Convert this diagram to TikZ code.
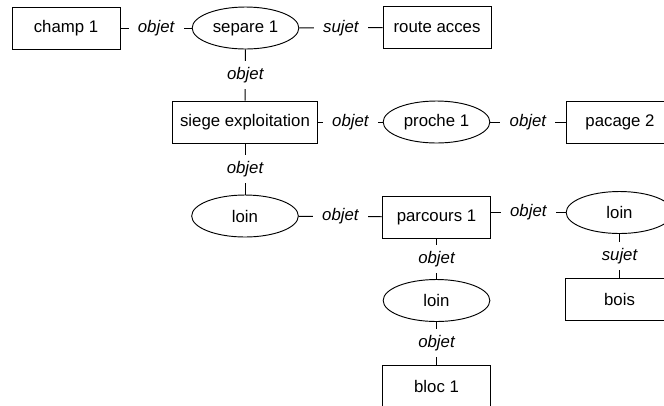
\documentclass[tikz,border=0pt]{standalone}
\usepackage{fontspec}
\setmainfont{Liberation Sans}
\usetikzlibrary{positioning,shapes.geometric}

\begin{document}
\begin{tikzpicture}[x=0.75pt,y=-0.75pt,line width=0.7pt,every node/.style={font=\fontsize{12.6}{15}\selectfont},concept/.style={draw,rectangle,minimum width=81pt,minimum height=31.5pt,inner sep=0pt},relation/.style={draw,ellipse,minimum width=80pt,minimum height=31.5pt,inner sep=0pt},role/.style={fill=white,inner xsep=7pt,inner ysep=4.5pt,font=\fontsize{12.6}{15}\selectfont\itshape}]
\clip (0,0) rectangle (664,405);
\node[concept] (champ) at (66,28) {champ 1};
\node[relation] (separe) at (245.5,28) {separe 1};
\node[concept] (route) at (437,27.5) {route acces};
\node[concept,minimum width=109pt] (siege) at (245,122) {siege exploitation};
\node[relation] (proche) at (436.5,122) {proche 1};
\node[concept] (pacage) at (620,122) {pacage 2};
\node[relation] (loin1) at (245,216) {loin};
\node[concept] (parcours) at (436.5,217) {parcours 1};
\node[relation] (loin2) at (619.5,212.5) {loin};
\node[concept] (bois) at (619.5,299) {bois};
\node[relation] (loin3) at (436.5,300.5) {loin};
\node[concept] (bloc) at (436.5,386) {bloc 1};
\draw (champ) -- node[role]{objet} (separe);
\draw (separe) -- node[role]{sujet} (route);
\draw (separe) -- node[role]{objet} (siege);
\draw (siege) -- node[role]{objet} (proche);
\draw (proche) -- node[role]{objet} (pacage);
\draw (siege) -- node[role]{objet} (loin1);
\draw (loin1) -- node[role]{objet} (parcours);
\draw (parcours.east |- loin2) -- node[role]{objet} (loin2);
\draw (parcours) -- node[role]{objet} (loin3);
\draw (loin2) -- node[role]{sujet} (bois);
\draw (loin3) -- node[role]{objet} (bloc);
\end{tikzpicture}
\end{document}
